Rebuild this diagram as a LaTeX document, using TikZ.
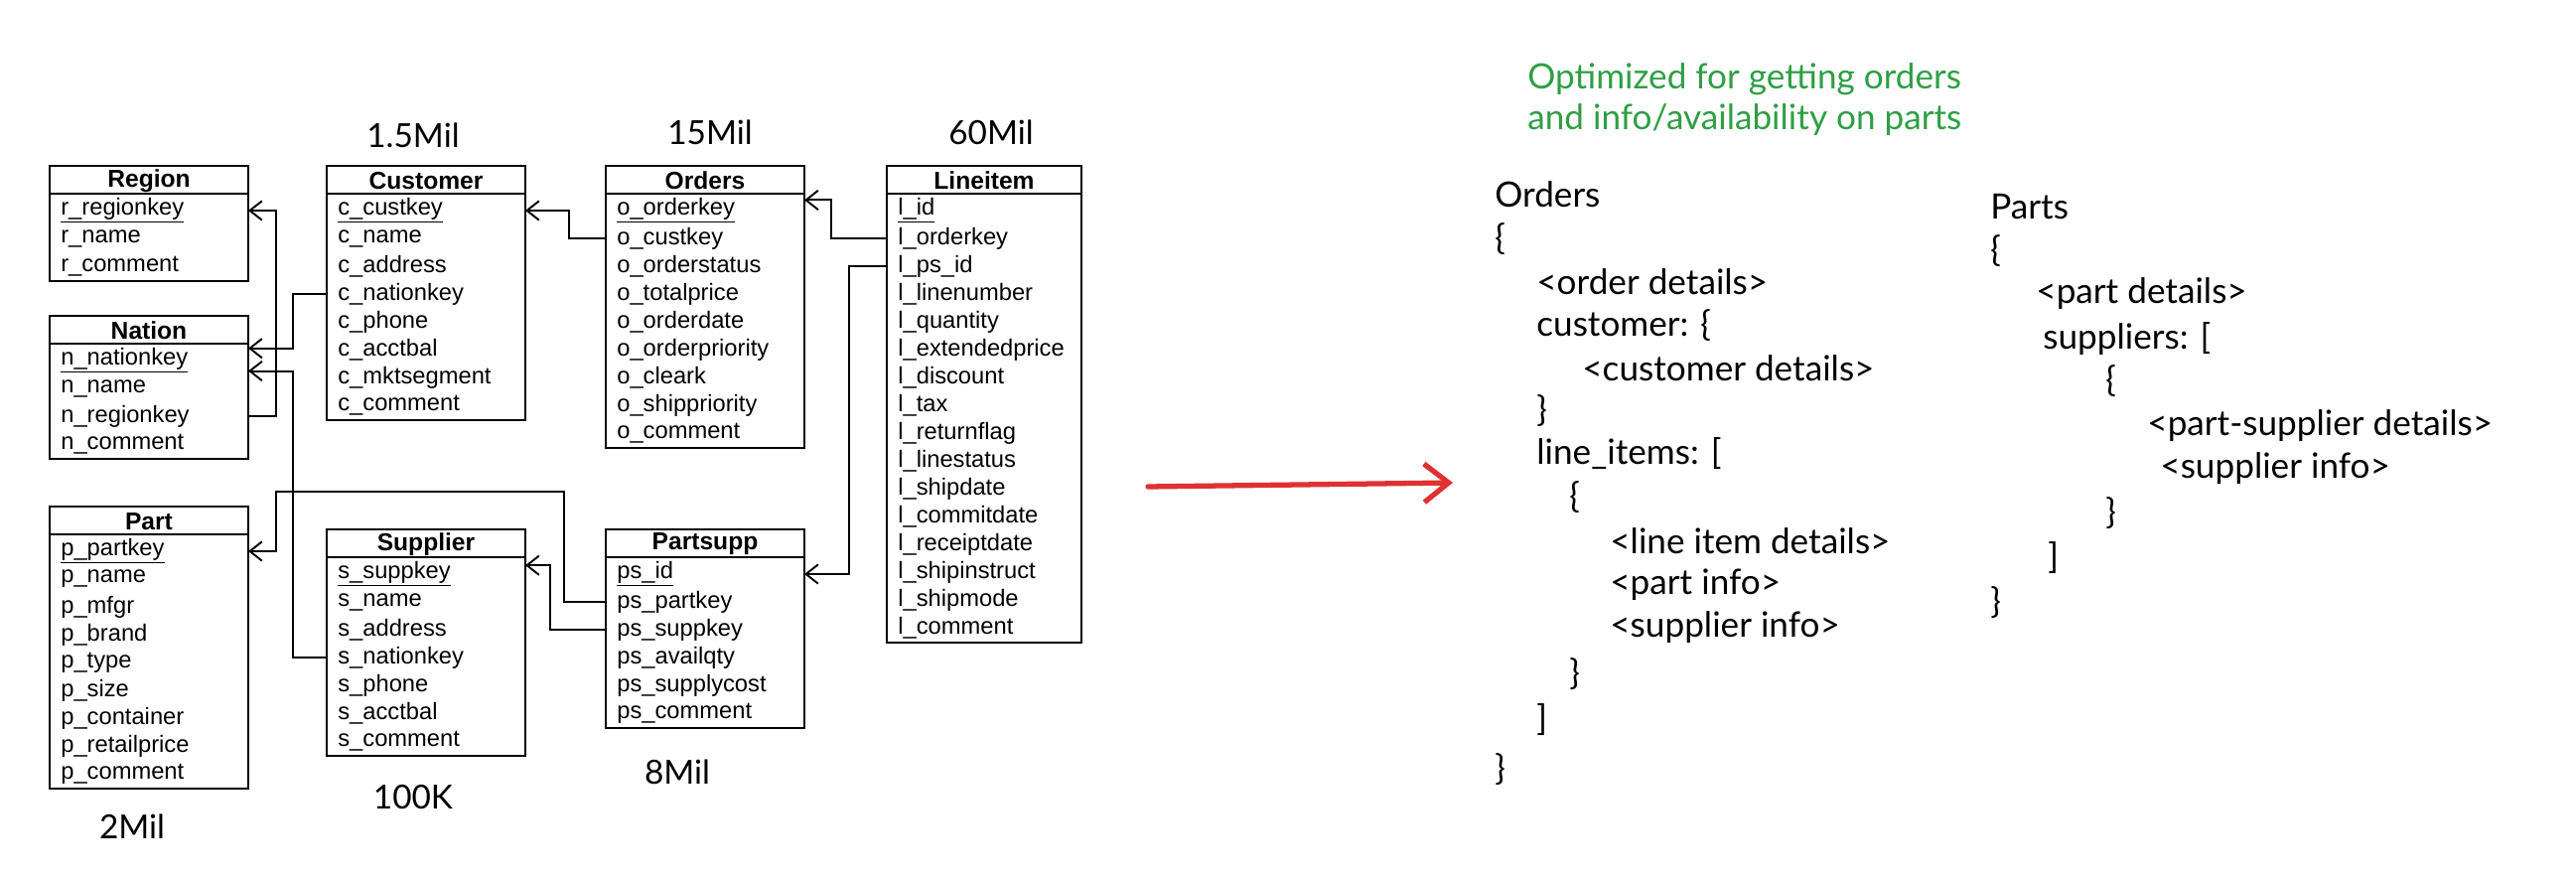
\documentclass[tikz,border=0pt]{standalone}
\usepackage{fontspec}
\setmainfont{Liberation Sans}
\newfontfamily\hand{Lato}
\usepackage[rgb]{xcolor}
\usetikzlibrary{arrows.meta}
\definecolor{notegreen}{RGB}{47,158,68}
\definecolor{arrowred}{RGB}{224,49,49}

\tikzset{
  field/.style={anchor=west, inner sep=0pt, font=\fontsize{13.5}{13.5}\selectfont},
  title/.style={inner sep=0pt, font=\bfseries\fontsize{14}{14}\selectfont},
  fk/.style={line width=1.1pt, -{Straight Barb[length=7pt,width=11pt]}},
  code/.style={anchor=west, inner sep=0pt, font=\hand\fontsize{20}{20}\selectfont},
  count/.style={inner sep=0pt, font=\hand\fontsize{19}{19}\selectfont}
}

% \erbox{id}{x}{top}{width}{title}{first field}{other fields}
\newcommand{\erbox}[7]{
  \pgfmathsetmacro{\ertop}{-#3}
  \node[title] (#1-t) at (#2+#4/2,\ertop-15) {#5};
  \draw[line width=1.1pt] (#2,\ertop-28) -- ++(#4,0);
  \node[field] (#1-1) at (#2+11,\ertop-45) {\underline{#6}};
  \coordinate (#1-L1) at (#2,\ertop-45);
  \coordinate (#1-R1) at (#2+#4,\ertop-45);
  \foreach \f [count=\i from 2] in {#7} {
    \node[field] (#1-\i) at (#2+11,\ertop-17-28*\i) {\f};
    \coordinate (#1-L\i) at (#2,\ertop-17-28*\i);
    \coordinate (#1-R\i) at (#2+#4,\ertop-17-28*\i);
    \xdef\erlast{\i}
  }
  \draw[line width=1.1pt] (#2,\ertop) rectangle ++(#4,{-32-28*\erlast});
}

\begin{document}
\begin{tikzpicture}[x=0.02cm, y=0.02cm]
\useasboundingbox (0,0) rectangle (2594,-884);

%% tables
\erbox{reg}{50}{167}{200}{Region}{r\_regionkey}{r\_name, r\_comment}
\erbox{nat}{50}{318}{200}{Nation}{n\_nationkey}{n\_name, n\_regionkey, n\_comment}
\erbox{prt}{50}{510}{200}{Part}{p\_partkey}{p\_name, p\_mfgr, p\_brand, p\_type, p\_size, p\_container, p\_retailprice, p\_comment}
\erbox{cus}{329}{167}{200}{Customer}{c\_custkey}{c\_name, c\_address, c\_nationkey, c\_phone, c\_acctbal, c\_mktsegment, c\_comment}
\erbox{sup}{329}{533}{200}{Supplier}{s\_suppkey}{s\_name, s\_address, s\_nationkey, s\_phone, s\_acctbal, s\_comment}
\erbox{ord}{610}{167}{200}{Orders}{o\_orderkey}{o\_custkey, o\_orderstatus, o\_totalprice, o\_orderdate, o\_orderpriority, o\_cleark, o\_shippriority, o\_comment}
\erbox{pss}{610}{533}{200}{Partsupp}{ps\_id}{ps\_partkey, ps\_suppkey, ps\_availqty, ps\_supplycost, ps\_comment}
\erbox{lin}{893}{167}{196}{Lineitem}{l\_id}{l\_orderkey, l\_ps\_id, l\_linenumber, l\_quantity, l\_extendedprice, l\_discount, l\_tax, l\_returnflag, l\_linestatus, l\_shipdate, l\_commitdate, l\_receiptdate, l\_shipinstruct, l\_shipmode, l\_comment}

%% foreign keys
\draw[fk] (nat-R3) -- ++(28,0) |- (reg-R1);
\draw[fk] (cus-L4) -- ++(-34,0) |- ([yshift=7]nat-R1);
\draw[fk] (sup-L4) -- ++(-34,0) |- ([yshift=-6]nat-R1);
\draw[fk] (ord-L2) -- ++(-37,0) |- (cus-R1);
\draw[fk] (lin-L2) -- ++(-56,0) |- ([yshift=6]ord-R1);
\draw[fk] (lin-L3) -- ++(-38,0) |- (pss-R1);
\draw[fk] (pss-L2) -- ++(-42,0) |- ++(-290,111) |- (prt-R1);
\draw[fk] (pss-L3) -- ++(-56,0) |- ([yshift=5]sup-R1);

%% row counts
\node[count] (n-cus) at (416,-136) {1.5Mil};
\node[count] (n-ord) at (715,-133) {15Mil};
\node[count] (n-lin) at (998,-133) {60Mil};
\node[count] (n-prt) at (133,-832) {2Mil};
\node[count] (n-sup) at (416,-803) {100K};
\node[count] (n-pss) at (682,-777) {8Mil};

%% big arrow
\coordinate (arr-a) at (1156,-490);
\coordinate (arr-b) at (1463,-486);
\draw[arrowred, line width=3pt, line cap=round, -{Straight Barb[length=14pt,width=22pt]}] (arr-a) -- (arr-b);

%% note
\node[code, text=notegreen] (note1) at (1538,-80) {Optimized for getting orders};
\node[code, text=notegreen] (note2) at (1538,-121) {and info/availability on parts};

%% orders document
\node[code] at (1505,-196) {Orders};
\node[code] at (1505,-241) {\{};
\node[code] at (1547,-284) {<order details>};
\node[code] at (1547,-328) {customer: \{};
\node[code] at (1593,-371) {<customer details>};
\node[code] at (1547,-414) {\}};
\node[code] at (1547,-457) {line\_items: [};
\node[code] at (1580,-501) {\{};
\node[code] at (1621,-545) {<line item details>};
\node[code] at (1621,-589) {<part info>};
\node[code] at (1621,-632) {<supplier info>};
\node[code] at (1580,-679) {\}};
\node[code] at (1547,-725) {]};
\node[code] at (1505,-775) {\}};

%% parts document
\node[code] at (2004,-208) {Parts};
\node[code] at (2004,-253) {\{};
\node[code] at (2050,-296) {<part details>};
\node[code] at (2057,-341) {suppliers: [};
\node[code] at (2120,-384) {\{};
\node[code] at (2162,-429) {<part-supplier details>};
\node[code] at (2175,-472) {<supplier info>};
\node[code] at (2120,-517) {\}};
\node[code] at (2062,-562) {]};
\node[code] at (2004,-607) {\}};
\end{tikzpicture}
\end{document}
